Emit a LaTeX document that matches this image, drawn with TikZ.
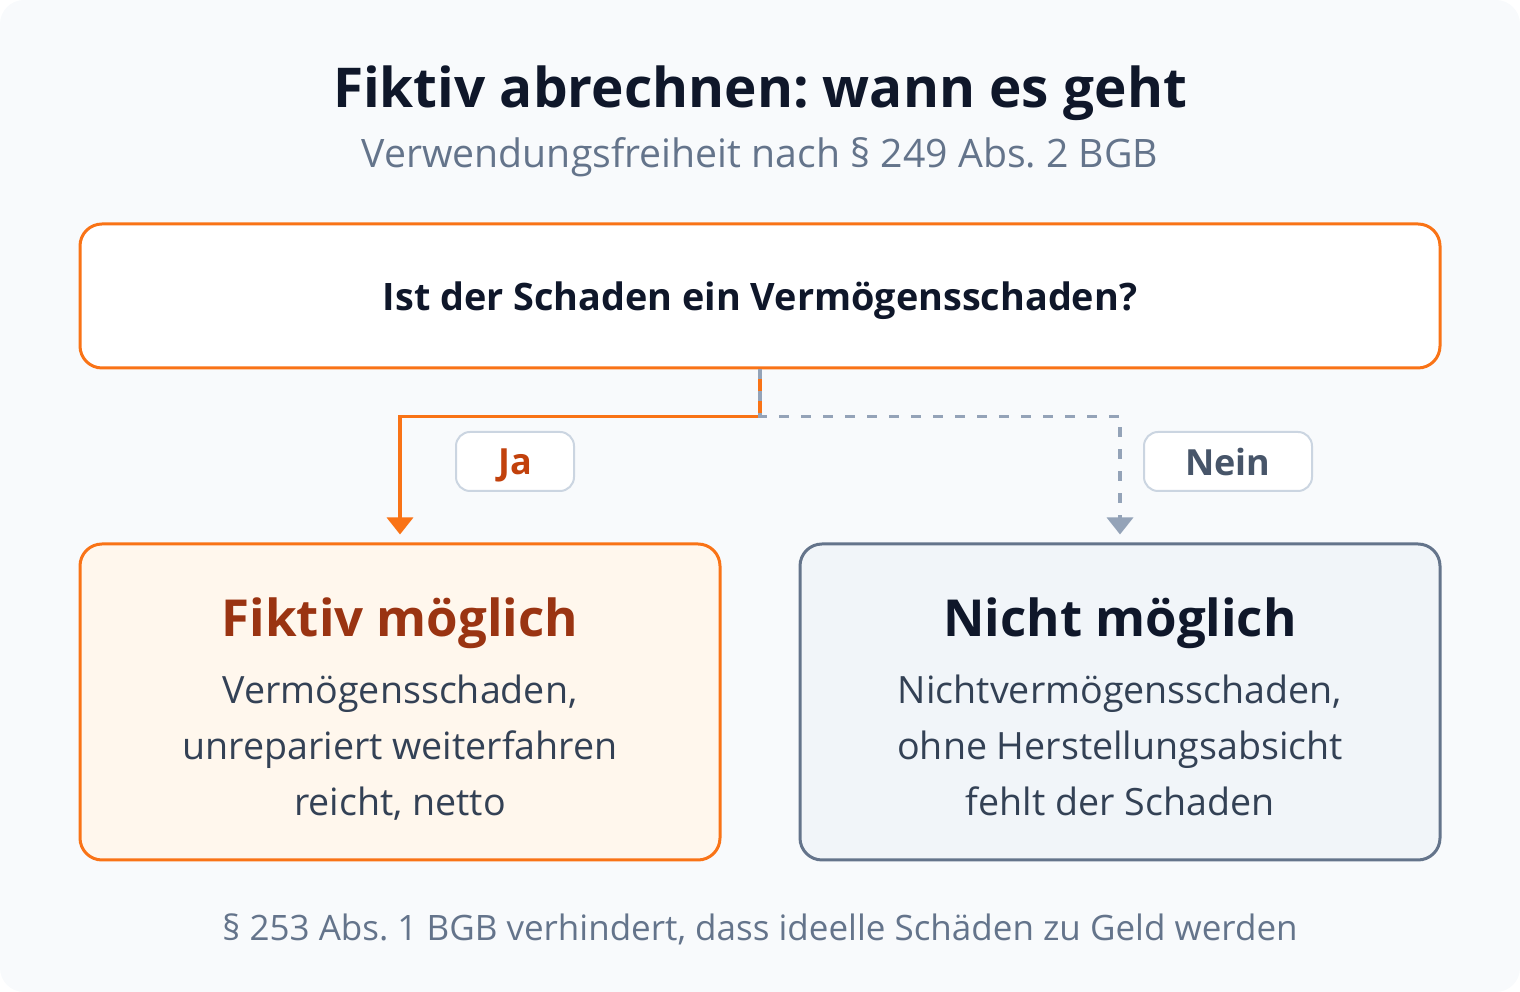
\documentclass[tikz,border=0pt]{standalone}
\usepackage{fontspec}
\setmainfont{Open Sans}
\frenchspacing
\usetikzlibrary{positioning,arrows.meta}

\definecolor{hintergrund}{HTML}{F8FAFC}
\definecolor{orangelinie}{HTML}{F97316}
\definecolor{orangefuell}{HTML}{FFF7ED}
\definecolor{schiefer}{HTML}{64748B}
\definecolor{schieferfuell}{HTML}{F1F5F9}
\definecolor{grauverb}{HTML}{94A3B8}
\definecolor{markenrand}{HTML}{CBD5E1}
\definecolor{jatext}{HTML}{C2410C}
\definecolor{neintext}{HTML}{475569}
\definecolor{dunkel}{HTML}{0F172A}
\definecolor{rumpftext}{HTML}{334155}
\definecolor{braun}{HTML}{9A3412}

\begin{document}
\begin{tikzpicture}[x=1pt,y=1pt,>={Triangle[width=26pt,length=17pt]},node distance=100pt,on grid]
	\tikzstyle{box}=[rectangle,rounded corners=22pt,line width=3pt,minimum width=640pt,minimum height=316pt,inner sep=0pt]
	\tikzstyle{marke}=[rectangle,rounded corners=14pt,draw=markenrand,line width=2pt,fill=white,minimum height=59pt,inner sep=0pt,text depth=0pt,font=\fontsize{36}{40}\selectfont\bfseries]
	\tikzstyle{boxtitel}=[anchor=base,font=\fontsize{51}{60}\selectfont\bfseries]
	\tikzstyle{rumpf}=[align=center,font=\fontsize{37.6}{56}\selectfont,text=rumpftext]

	\path[fill=hintergrund,rounded corners=24pt] (0,0) rectangle (1520,992);

	\node[anchor=base,text=dunkel,font=\fontsize{54.9}{64}\selectfont\bfseries] (TITEL) at (760,884) {Fiktiv abrechnen: wann es geht};
	\node[anchor=base,text=schiefer,font=\fontsize{39.2}{40}\selectfont] (UNTERTITEL) at (760,824) {Verwendungsfreiheit nach § 249 Abs. 2 BGB};

	\node[rectangle,rounded corners=22pt,draw=orangelinie,fill=white,line width=3pt,minimum width=1360pt,minimum height=144pt,text depth=0pt,text=dunkel,font=\fontsize{37.8}{40}\selectfont\bfseries] (FRAGE) at (760,696) {Ist der Schaden ein Vermögensschaden?};

	\node[box,draw=orangelinie,fill=orangefuell] (MOEGLICH) [below left=406pt and 360pt of FRAGE] {};
	\node[box,draw=schiefer,fill=schieferfuell] (NICHT) [right=720pt of MOEGLICH] {};

	\node[boxtitel,text=braun] (MOEGLICH_T) at (400,355) {Fiktiv möglich};
	\node[boxtitel,text=dunkel] (NICHT_T) at (1120,355) {Nicht möglich};
	\node[rumpf] (MOEGLICH_R) [below=129pt of MOEGLICH.north] {Vermögensschaden,\\unrepariert weiterfahren\\reicht, netto};
	\node[rumpf] (NICHT_R) [below=129pt of NICHT.north] {Nichtvermögensschaden,\\ohne Herstellungsabsicht\\fehlt der Schaden};

	% Verbindungen
	\draw[orangelinie,line width=3.5pt,->,shorten >=8pt] (FRAGE.south) -- ++(0,-47) -| (MOEGLICH.north);
	\draw[grauverb,line width=3.5pt,dash pattern=on 10pt off 12pt,->,shorten >=8pt] (FRAGE.south) -- ++(0,-47) -| (NICHT.north);

	\node[marke,minimum width=118pt,text=jatext] (JA) at (515,530.5) {Ja};
	\node[marke,minimum width=168pt,text=neintext] (NEIN) at (1228,530.5) {Nein};

	\node[anchor=base,text=schiefer,font=\fontsize{35}{36}\selectfont] (FUSS) at (760,51) {§ 253 Abs. 1 BGB verhindert, dass ideelle Schäden zu Geld werden};
\end{tikzpicture}
\end{document}
